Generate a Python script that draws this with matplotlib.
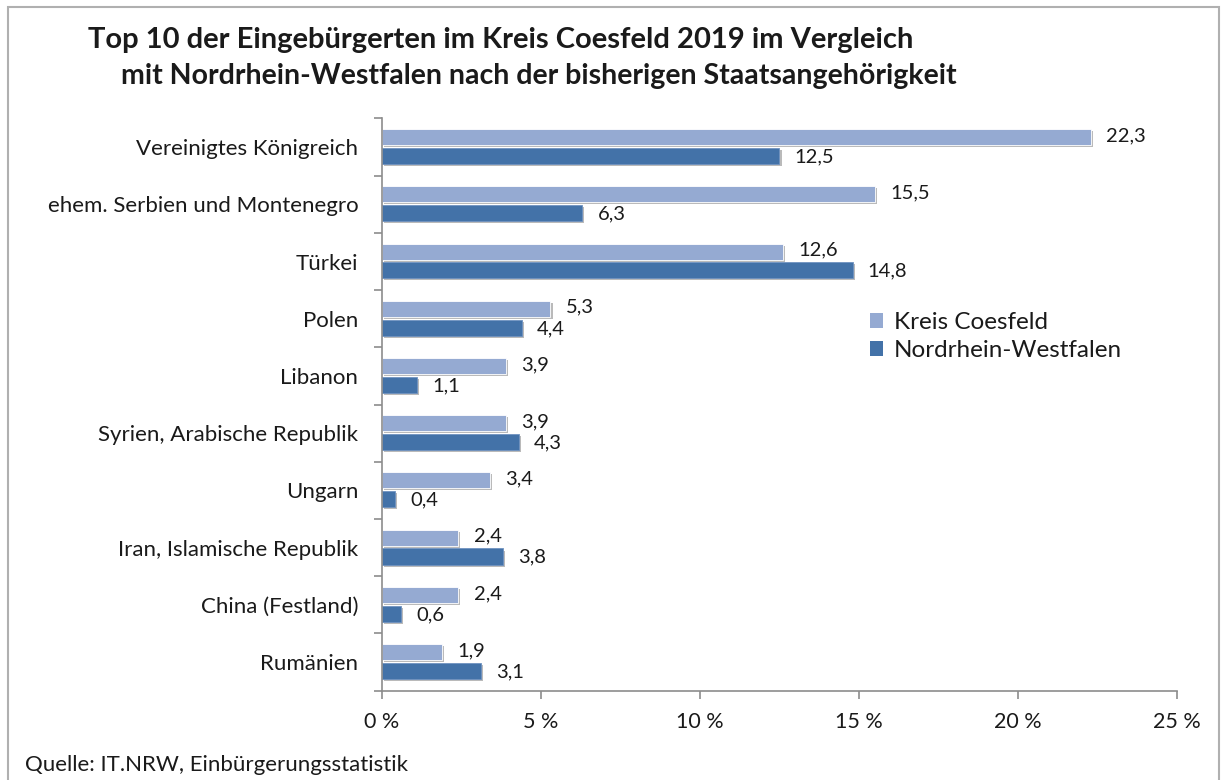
import numpy as np
import matplotlib.pyplot as plt
import matplotlib.patheffects as pe
from matplotlib.patches import Patch, Rectangle

plt.rcParams['font.family'] = ['Lato', 'DejaVu Sans']

laender = ["Vereinigtes Königreich", "ehem. Serbien und Montenegro", "Türkei", "Polen",
           "Libanon", "Syrien, Arabische Republik", "Ungarn", "Iran, Islamische Republik",
           "China (Festland)", "Rumänien"]
coesfeld = [22.3, 15.5, 12.6, 5.3, 3.9, 3.9, 3.4, 2.4, 2.4, 1.9]
nrw = [12.5, 6.3, 14.8, 4.4, 1.1, 4.3, 0.4, 3.8, 0.6, 3.1]
xticks = [0, 5, 10, 15, 20, 25]

col_light = '#95AAD2'
col_dark = '#4372A8'
grau = '#8C8C8C'
txt = '#1A1A1A'

fig = plt.figure(figsize=(12.23, 7.8), dpi=100)
ax = fig.add_axes([0.3123, 0.1145, 0.650, 0.7336])

# Rahmen um das ganze Diagramm
fig.patches.append(Rectangle((8 / 1223, -0.01), 1211 / 1223, 1 - 7 / 780 + 0.01,
                             transform=fig.transFigure, fill=False,
                             edgecolor='#B0B0B0', linewidth=1.5))

y = np.arange(len(laender))
h = 0.28
schatten = [pe.SimplePatchShadow(offset=(1.5, -1.5), shadow_rgbFace='#777777', alpha=0.5), pe.Normal()]

b1 = ax.barh(y - 0.175, coesfeld, height=h, color=col_light, edgecolor='white', linewidth=0.6)
b2 = ax.barh(y + 0.155, nrw, height=h, color=col_dark, edgecolor='#6F92C0', linewidth=0.6)
for b in list(b1) + list(b2):
    b.set_path_effects(schatten)

for yi, v in zip(y, coesfeld):
    ax.annotate(f"{v:.1f}".replace('.', ','), (v, yi - 0.2), xytext=(11, 0),
                textcoords='offset points', va='center', ha='left', fontsize=14.5, color=txt)
for yi, v in zip(y, nrw):
    ax.annotate(f"{v:.1f}".replace('.', ','), (v, yi + 0.17), xytext=(11, 0),
                textcoords='offset points', va='center', ha='left', fontsize=14.5, color=txt)

ax.set_xlim(0, 25)
ax.set_ylim(9.5, -0.5)
ax.set_xticks(xticks)
ax.set_xticklabels([f"{t} %" for t in xticks], fontsize=15.5, color=txt)
ax.set_yticks(y)
ax.set_yticklabels(laender, fontsize=16, color=txt)
ax.set_yticks(np.arange(-0.5, 10, 1), minor=True)
ax.tick_params(axis='y', which='major', length=0, pad=17)
ax.tick_params(axis='y', which='minor', length=6, color=grau, width=1.2)
ax.tick_params(axis='x', length=6, color=grau, width=1.2, pad=9)

for s in ['top', 'right']:
    ax.spines[s].set_visible(False)
for s in ['left', 'bottom']:
    ax.spines[s].set_color(grau)
    ax.spines[s].set_linewidth(1.2)

fig.text(501 / 1223, 1 - 40 / 780, "Top 10 der Eingebürgerten im Kreis Coesfeld 2019 im Vergleich",
         ha='center', va='center', fontsize=21, fontweight='bold', color=txt)
fig.text(539 / 1223, 1 - 76 / 780, "mit Nordrhein-Westfalen nach der bisherigen Staatsangehörigkeit",
         ha='center', va='center', fontsize=20.5, fontweight='bold', color=txt)

handles = [Patch(facecolor=col_light, edgecolor='none', label='Kreis Coesfeld'),
           Patch(facecolor=col_dark, edgecolor='none', label='Nordrhein-Westfalen')]
fig.legend(handles=handles, loc='upper left', bbox_to_anchor=(848 / 1223, 1 - 290 / 780),
           frameon=False, fontsize=17.5, handlelength=0.55, handleheight=0.55,
           handletextpad=0.45, labelspacing=0.3, labelcolor=txt)

fig.text(25 / 1223, 1 - 765 / 780, "Quelle: IT.NRW, Einbürgerungsstatistik",
         ha='left', va='center', fontsize=16, color=txt)

fig.savefig('out.png', dpi=100, facecolor='white')
